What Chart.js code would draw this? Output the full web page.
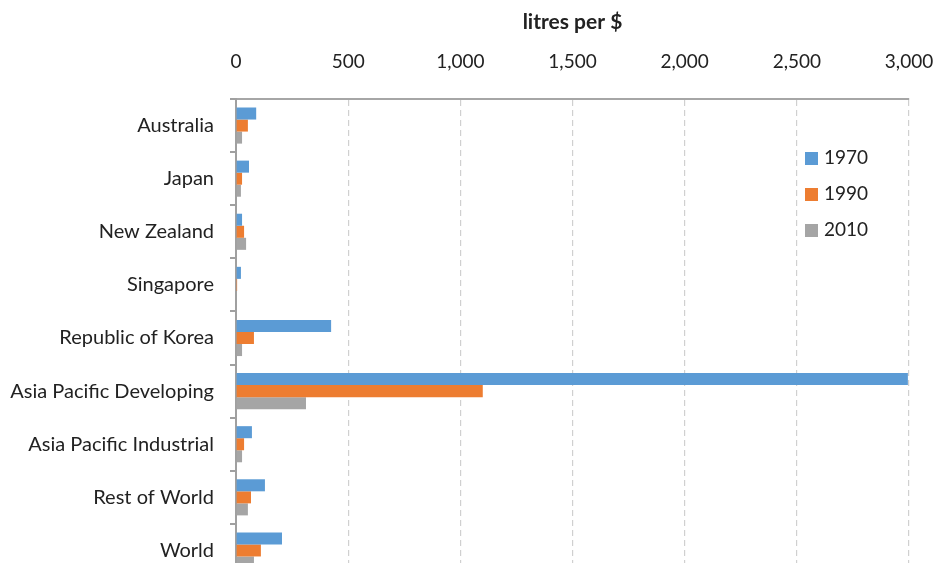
<!DOCTYPE html>
<html lang="en">
  <head>
    <meta charset="UTF-8" />
    <title>litres per $</title>
    <script src="https://cdn.jsdelivr.net/npm/chart.js"></script>
    <style>
      body {
        margin: 0;
        padding: 0;
        background: #fff;
        overflow: hidden;
        font-family: Lato, sans-serif;
      }
      .wrap {
        position: relative;
        width: 936px;
        height: 580px;
      }
      .legend {
        position: absolute;
        left: 805px;
        top: 144px;
        font-size: 19px;
        color: #222;
      }
      .legend div {
        height: 36px;
        line-height: 26px;
      }
      .legend span {
        display: inline-block;
        width: 13px;
        height: 13px;
        margin-right: 6px;
        vertical-align: -1px;
      }
    </style>
  </head>
  <body>
    <div class="wrap">
      <canvas id="chart" width="936" height="580"></canvas>
      <div class="legend" id="legend"></div>
    </div>

    <script>
      // categories, top to bottom
      const regions = [
        "Australia",
        "Japan",
        "New Zealand",
        "Singapore",
        "Republic of Korea",
        "Asia Pacific Developing",
        "Asia Pacific Industrial",
        "Rest of World",
        "World",
      ];
      const years = ["1970", "1990", "2010"];
      const v1970 = [90, 58, 27, 22, 424, 2995, 71, 129, 205];
      const v1990 = [53, 27, 36, 5, 80, 1100, 36, 67, 111];
      const v2010 = [27, 22, 45, 3, 27, 312, 27, 53, 80];
      const colors = ["#5b9bd5", "#ed7d31", "#a5a5a5"];
      const xMax = 3000;
      const xStep = 500;

      const series = [v1970, v1990, v2010];

      const ctx = document.getElementById("chart").getContext("2d");
      const chart = new Chart(ctx, {
        type: "bar",
        data: {
          labels: regions,
          datasets: years.map((y, i) => ({
            label: y,
            data: series[i],
            backgroundColor: colors[i],
            categoryPercentage: 0.68,
            barPercentage: 1,
          })),
        },
        options: {
          indexAxis: "y",
          responsive: false,
          animation: false,
          layout: { padding: { top: 0, bottom: 3, left: 0, right: 0 } },
          plugins: {
            legend: { display: false },
            tooltip: { enabled: false },
          },
          scales: {
            x: {
              position: "top",
              min: 0,
              max: xMax,
              ticks: {
                stepSize: xStep,
                padding: 26,
                color: "#222",
                font: { family: "Lato", size: 19 },
              },
              grid: {
                color: "#d0d0d0",
                lineWidth: 1.2,
                drawTicks: false,
              },
              border: { color: "#a6a6a6", width: 2, dash: [6, 4] },
              title: {
                display: true,
                text: "litres per $",
                color: "#222",
                font: { family: "Lato", size: 21, weight: "bold" },
                padding: { top: 10, bottom: 0 },
              },
              afterFit: (scale) => {
                scale.height = 99;
                scale.paddingRight = 27;
              },
            },
            y: {
              ticks: {
                padding: 16,
                color: "#222",
                font: { family: "Lato", size: 20 },
              },
              grid: {
                drawOnChartArea: false,
                drawTicks: true,
                tickLength: 6,
                color: "#a0a0a0",
                lineWidth: 2,
              },
              border: { color: "#a0a0a0", width: 2 },
              afterFit: (scale) => {
                scale.width = 236;
                scale.paddingTop = 0;
                scale.paddingBottom = 0;
              },
            },
          },
        },
      });

      // legend inside the plot area, right side
      const legend = document.getElementById("legend");
      years.forEach((y, i) => {
        const row = document.createElement("div");
        row.innerHTML =
          '<span style="background:' + colors[i] + '"></span>' + y;
        legend.appendChild(row);
      });
    </script>
  </body>
</html>
